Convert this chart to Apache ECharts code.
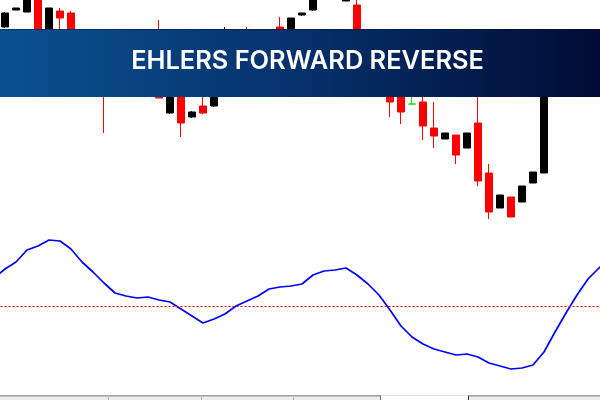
<!DOCTYPE html>
<html><head><meta charset="utf-8">
<script src="https://cdn.jsdelivr.net/npm/echarts@6/dist/echarts.min.js"></script>
<style>html,body{margin:0;padding:0;background:#fff}#c{width:600px;height:400px}</style>
</head><body><div id="c"></div>
<script>
// bar index labels (one slot before the first visible bar, one after the last)
const barLabels = Array.from({length: 57}, (_, i) => String(i));
const openPrices = [null,
 1.0823,1.0840,1.0838,1.0853,1.0802,1.0839,1.0837,1.0810,1.0790,1.0775,
 1.0760,1.0780,1.0795,1.0780,1.0810,1.0737,1.0760,1.0733,1.0744,1.0744,
 1.0765,1.0790,1.0805,1.0790,1.0800,1.0823,1.0805,1.0835,1.0840,1.0855,
 1.0870,1.0849,1.0845,1.0795,1.0775,1.0765,1.0760,1.0746,1.0748,1.0722,
 1.0711,1.0715,1.0702,1.0727,1.0677,1.0642,1.0653,1.0648,1.0667,1.0677,
 1.0800,1.0810,1.0805,1.0812,1.0808, null];
const closePrices = [null,
 1.0837,1.0842,1.0852,1.0805,1.0842,1.0832,1.0810,1.0790,1.0775,1.0760,
 1.0780,1.0795,1.0780,1.0810,1.0752,1.0770,1.0727,1.0738,1.0737,1.0765,
 1.0790,1.0805,1.0790,1.0800,1.0815,1.0805,1.0832,1.0837,1.0852,1.0870,
 1.0858,1.0851,1.0795,1.0775,1.0765,1.0748,1.0738,1.0746,1.0724,1.0714,
 1.0717,1.0695,1.0717,1.0669,1.0638,1.0655,1.0633,1.0664,1.0678,1.0800,
 1.0810,1.0805,1.0812,1.0808,1.0814, null];
const lowPrices = [null,
 1.0822,1.0840,1.0838,1.0800,1.0800,1.0815,1.0805,1.0785,1.0765,1.0717,
 1.0755,1.0770,1.0775,1.0775,1.0752,1.0736,1.0713,1.0732,1.0736,1.0743,
 1.0762,1.0780,1.0785,1.0780,1.0795,1.0800,1.0800,1.0834,1.0839,1.0853,
 1.0855,1.0849,1.0790,1.0770,1.0755,1.0733,1.0726,1.0746,1.0710,1.0702,
 1.0711,1.0686,1.0702,1.0664,1.0631,1.0642,1.0633,1.0648,1.0667,1.0677,
 1.0795,1.0800,1.0798,1.0800,1.0802, null];
const highPrices = [null,
 1.0838,1.0842,1.0854,1.0855,1.0842,1.0842,1.0839,1.0815,1.0795,1.0785,
 1.0785,1.0800,1.0805,1.0815,1.0830,1.0775,1.0765,1.0739,1.0755,1.0770,
 1.0823,1.0815,1.0823,1.0810,1.0818,1.0833,1.0832,1.0837,1.0854,1.0875,
 1.0875,1.0855,1.0852,1.0800,1.0780,1.0770,1.0765,1.0755,1.0755,1.0748,
 1.0717,1.0715,1.0717,1.0780,1.0686,1.0655,1.0653,1.0664,1.0678,1.0805,
 1.0815,1.0817,1.0818,1.0816,1.0818, null];
const dojiBars = [38];
const oscValues = [
 0.28,0.37,0.44,0.56,0.60,0.66,0.65,0.57,0.44,0.34,
 0.23,0.13,0.10,0.08,0.09,0.06,0.04,-0.03,-0.10,-0.17,
 -0.13,-0.08,0.00,0.05,0.10,0.17,0.19,0.20,0.22,0.31,
 0.35,0.36,0.38,0.31,0.22,0.11,-0.04,-0.20,-0.31,-0.38,
 -0.43,-0.46,-0.49,-0.48,-0.51,-0.57,-0.60,-0.63,-0.62,-0.59,
 -0.46,-0.26,-0.07,0.11,0.27,0.38,0.47];
const zeroLevel = 0;
const bannerTitle = 'EHLERS FORWARD REVERSE';

const candleData = barLabels.map((_, i) => {
  if (openPrices[i] == null) return ['-', '-', '-', '-'];
  const v = [openPrices[i], closePrices[i], lowPrices[i], highPrices[i]];
  if (dojiBars.includes(i)) return {value: v, itemStyle: {color: '#00e000', borderColor: '#00e000', color0: '#00e000', borderColor0: '#00e000'}};
  return v;
});

const chart = echarts.init(document.getElementById('c'), null, {renderer: 'canvas'});
chart.setOption({
  animation: false,
  backgroundColor: '#ffffff',
  grid: [
    {left: -11.5, top: 0, width: 627, height: 230, outerBoundsMode: 'none', containLabel: false},
    {left: -11.5, top: 226, width: 627, height: 160, outerBoundsMode: 'none', containLabel: false}
  ],
  xAxis: [
    {type: 'category', data: barLabels, gridIndex: 0, boundaryGap: true, show: false},
    {type: 'category', data: barLabels, gridIndex: 1, boundaryGap: true, show: false}
  ],
  yAxis: [
    {type: 'value', gridIndex: 0, min: 1.0620, max: 1.0850, show: false, splitLine: {show: false}},
    {type: 'value', gridIndex: 1, min: -0.8, max: 0.8, show: false, splitLine: {show: false}}
  ],
  series: [
    {
      type: 'candlestick', xAxisIndex: 0, yAxisIndex: 0, data: candleData, barWidth: 7, clip: true,
      itemStyle: {color: '#000000', color0: '#ff0000', borderColor: '#000000', borderColor0: '#ff0000', borderWidth: 1}
    },
    {
      type: 'line', xAxisIndex: 1, yAxisIndex: 1, data: oscValues, showSymbol: false, symbol: 'none',
      lineStyle: {color: '#0000ff', width: 1.7}, clip: true,
      markLine: {silent: true, symbol: 'none', label: {show: false},
        lineStyle: {color: '#ff0000', width: 1, type: [2, 2]},
        data: [{yAxis: zeroLevel}]}
    }
  ],
  graphic: [
    {type: 'rect', z: 100, shape: {x: 0, y: 29, width: 600, height: 68},
      style: {fill: new echarts.graphic.LinearGradient(0, 0, 1, 0, [
        {offset: 0, color: '#0a5191'}, {offset: 0.5, color: '#05316b'}, {offset: 1, color: '#010b34'}])}},
    {type: 'rect', z: 101, shape: {x: 0, y: 29, width: 600, height: 1}, style: {fill: 'rgba(0,20,60,0.5)'}},
    {type: 'text', z: 102, x: 307.5, y: 61,
      style: {text: bannerTitle, fill: '#ffffff', font: '600 25.4px Inter', align: 'center', verticalAlign: 'middle'}},
    // bottom tab strip
    {type: 'rect', z: 100, shape: {x: 0, y: 396, width: 600, height: 4}, style: {fill: '#ececec'}},
    {type: 'rect', z: 101, shape: {x: 0, y: 395, width: 600, height: 1.5}, style: {fill: '#a0a0a0'}},
    {type: 'rect', z: 102, shape: {x: 381, y: 395, width: 87, height: 5}, style: {fill: '#ffffff'}},
    {type: 'rect', z: 102, shape: {x: 381, y: 395, width: 87, height: 1}, style: {fill: '#e0e0e0'}},
    {type: 'rect', z: 103, shape: {x: 380, y: 396, width: 1, height: 4}, style: {fill: '#707070'}},
    {type: 'rect', z: 103, shape: {x: 468, y: 396, width: 1, height: 4}, style: {fill: '#303030'}},
    {type: 'rect', z: 103, shape: {x: 108, y: 397, width: 1, height: 3}, style: {fill: '#b0b0b0'}},
    {type: 'rect', z: 103, shape: {x: 201, y: 397, width: 1, height: 3}, style: {fill: '#b0b0b0'}},
    {type: 'rect', z: 103, shape: {x: 293, y: 397, width: 1, height: 3}, style: {fill: '#b0b0b0'}}
  ]
});
</script></body></html>
